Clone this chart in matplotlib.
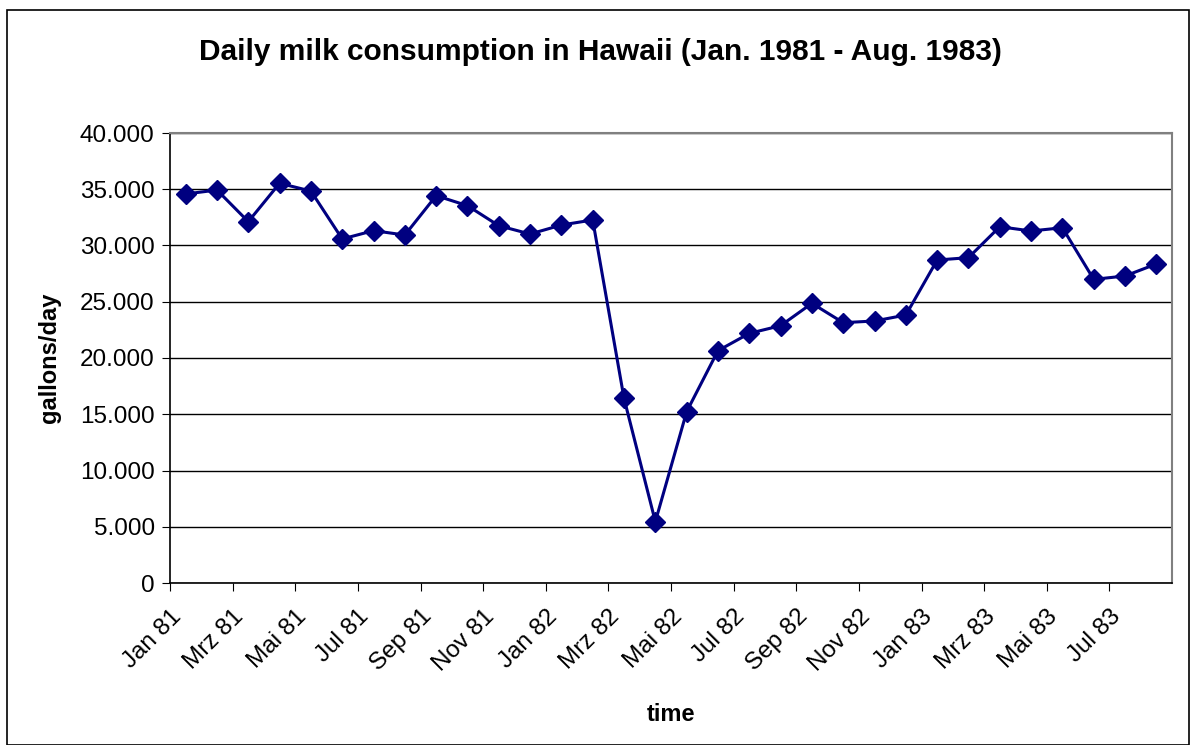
import matplotlib.pyplot as plt
from matplotlib.ticker import FuncFormatter
from matplotlib.patches import Rectangle

plt.rcParams["font.family"] = ["Liberation Sans", "DejaVu Sans"]

months = ["Jan 81", "Feb 81", "Mrz 81", "Apr 81", "Mai 81", "Jun 81", "Jul 81", "Aug 81",
          "Sep 81", "Okt 81", "Nov 81", "Dez 81", "Jan 82", "Feb 82", "Mrz 82", "Apr 82",
          "Mai 82", "Jun 82", "Jul 82", "Aug 82", "Sep 82", "Okt 82", "Nov 82", "Dez 82",
          "Jan 83", "Feb 83", "Mrz 83", "Apr 83", "Mai 83", "Jun 83", "Jul 83", "Aug 83"]
milk = [34580, 34930, 32120, 35530, 34840, 30580, 31320, 30930,
        34430, 33540, 31760, 31020, 31820, 32270, 16410, 5450,
        15230, 20650, 22190, 22870, 24860, 23140, 23290, 23820,
        28710, 28920, 31670, 31290, 31580, 26990, 27290, 28360]

fig = plt.figure(figsize=(11.92, 7.45), dpi=100)
fig.patches.append(Rectangle((7/1192, 0), 1182/1192, 1 - 10/745, transform=fig.transFigure,
                             fill=False, edgecolor="black", linewidth=1.2))
ax = fig.add_axes([170/1192, 1 - 583/745, 1002/1192, 450/745])

x = range(len(milk))
ax.plot(x, milk, color="#000080", linewidth=2.2, marker="D", markersize=10, zorder=3)

ax.set_xlim(-0.5, len(milk) - 0.5)
ax.set_ylim(0, 40000)
ax.set_yticks(range(0, 40001, 5000))
ax.yaxis.set_major_formatter(FuncFormatter(lambda v, p: "0" if v == 0 else f"{int(v):,}".replace(",", ".")))
ax.grid(axis="y", color="black", linewidth=1)
ax.set_axisbelow(True)

ticks = [i - 0.5 for i in range(0, len(milk), 2)]
ax.set_xticks(ticks)
ax.set_xticklabels(months[::2], rotation=45, ha="right", va="top", rotation_mode="anchor")
ax.tick_params(axis="x", length=6, direction="out", labelsize=17.5, pad=10)
ax.tick_params(axis="y", length=6, direction="out", labelsize=17.5, pad=5)

for s in ["top", "right"]:
    ax.spines[s].set_color("#808080")
    ax.spines[s].set_linewidth(1.5)
for s in ["left", "bottom"]:
    ax.spines[s].set_color("black")
    ax.spines[s].set_linewidth(1.2)

fig.text(600/1192, 1 - 52/745, "Daily milk consumption in Hawaii (Jan. 1981 - Aug. 1983)",
         fontsize=21.5, fontweight="bold", ha="center", va="center")
ax.set_xlabel("time", fontsize=17, fontweight="bold", labelpad=20)
ax.set_ylabel("gallons/day", fontsize=17, fontweight="bold", labelpad=14)

fig.savefig("out.png", dpi=100)
